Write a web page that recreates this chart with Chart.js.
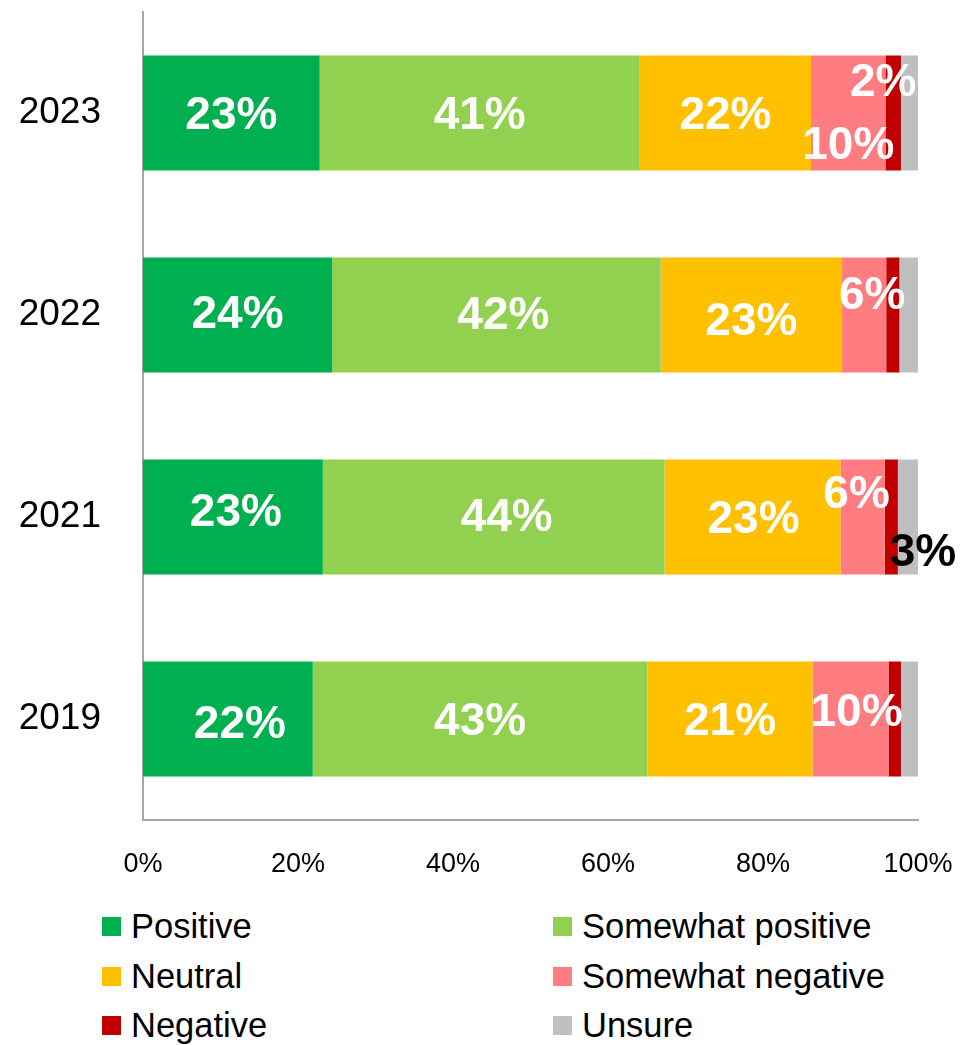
<!DOCTYPE html>
<html>
<head>
<meta charset="utf-8">
<title>Sentiment by year</title>
<script src="https://cdn.jsdelivr.net/npm/chart.js@4.4.0/dist/chart.umd.min.js"></script>
<style>
    body { margin: 0; background: #fff; font-family: "Liberation Sans", Arial, sans-serif; }
    #wrap { position: relative; width: 960px; height: 1045px; }
    #chart-box { position: absolute; left: 0; top: 0; width: 960px; height: 890px; }
    #legend { position: absolute; left: 102px; top: 902px; display: grid;
              grid-template-columns: 451px 400px; grid-auto-rows: 49.5px; }
    .item { display: flex; align-items: center; font-size: 34.5px; color: #000; white-space: nowrap; }
    .swatch { width: 19px; height: 19px; margin-right: 10px; flex: none; }
</style>
</head>
<body>
<div id="wrap">
    <div id="chart-box"><canvas id="sentiment-chart"></canvas></div>
    <div id="legend"></div>
</div>
<script>
const years = ['2023', '2022', '2021', '2019'];
const seriesNames = ['Positive', 'Somewhat positive', 'Neutral', 'Somewhat negative', 'Negative', 'Unsure'];
const seriesColors = ['#00B050', '#92D050', '#FFC000', '#FF7C80', '#C00000', '#BFBFBF'];

// share of answers in %, one value per year
const positive = [22.8, 24.4, 23.2, 21.9];
const somewhatPositive = [41.3, 42.4, 44.1, 43.2];
const neutral = [22.1, 23.4, 22.7, 21.3];
const somewhatNegative = [9.6, 5.7, 5.7, 9.8];
const negative = [2.0, 1.7, 1.7, 1.6];
const unsure = [2.2, 2.4, 2.6, 2.2];

const xTicks = [0, 20, 40, 60, 80, 100];

// which segments get a label, and how far it was dragged off centre [dx, dy, colour]
const labelNudge = {
    'Positive': [[0, 0], [0, -3], [3, -7], [12, 3]],
    'Somewhat positive': [[0, 0], [7, -2], [13, -2], [0, 0]],
    'Neutral': [[0, 0], [0, 4], [1, 0], [0, 0]],
    'Somewhat negative': [[0, 30], [8, -22], [-6, -25], [6, -9]],
    'Negative': [[-10, -33], null, null, null],
    'Unsure': [null, null, [15, 33, '#000'], null]
};

const FONT = '"Liberation Sans", Arial, sans-serif';
const seriesValues = [positive, somewhatPositive, neutral, somewhatNegative, negative, unsure];

const barLabels = {
    id: 'barLabels',
    afterDatasetsDraw(chart) {
        const ctx = chart.ctx;
        ctx.save();
        ctx.font = 'bold 46px ' + FONT;
        ctx.textAlign = 'center';
        ctx.textBaseline = 'middle';
        chart.data.datasets.forEach(function (ds, i) {
            chart.getDatasetMeta(i).data.forEach(function (bar, j) {
                const nudge = labelNudge[ds.label][j];
                if (!nudge) return;
                const cx = (bar.x + bar.base) / 2;
                ctx.fillStyle = nudge[2] || '#fff';
                // +3: digits sit a little high with a 'middle' baseline
                ctx.fillText(Math.round(ds.data[j]) + '%', cx + nudge[0], bar.y + nudge[1] + 3);
            });
        });
        ctx.restore();
    }
};

const datasets = seriesNames.map(function (name, i) {
    return {
        label: name,
        data: seriesValues[i],
        backgroundColor: seriesColors[i],
        borderWidth: 0,
        barPercentage: 0.57,
        categoryPercentage: 1
    };
});

const ctx = document.getElementById('sentiment-chart').getContext('2d');
const chart = new Chart(ctx, {
    type: 'bar',
    data: { labels: years, datasets: datasets },
    plugins: [barLabels],
    options: {
        indexAxis: 'y',
        animation: false,
        responsive: true,
        maintainAspectRatio: false,
        layout: { padding: { top: 12, right: 42, bottom: 0, left: 0 } },
        plugins: {
            legend: { display: false },
            tooltip: { enabled: false }
        },
        scales: {
            x: {
                stacked: true,
                min: 0,
                max: 100,
                afterBuildTicks: function (scale) {
                    scale.ticks = xTicks.map(function (v) { return { value: v }; });
                },
                afterFit: function (scale) {
                    scale.height = 70;
                    // tick padding should not push the plot in from the right
                    scale.paddingLeft = 0;
                    scale.paddingRight = 0;
                },
                grid: { display: false },
                border: { display: true, color: '#a6a6a6', width: 2 },
                ticks: {
                    color: '#000',
                    padding: 20,
                    maxRotation: 0,
                    font: { family: FONT, size: 27 },
                    callback: function (v) { return v + '%'; }
                }
            },
            y: {
                stacked: true,
                afterFit: function (scale) {
                    scale.width = 143;
                    scale.paddingTop = 0;
                    scale.paddingBottom = 0;
                },
                grid: { display: false },
                border: { display: true, color: '#a6a6a6', width: 2 },
                ticks: {
                    color: '#000',
                    padding: 34,
                    font: { family: FONT, size: 37 }
                }
            }
        }
    }
});

// legend in two columns like the original
const legend = document.getElementById('legend');
seriesNames.forEach(function (name, i) {
    const item = document.createElement('div');
    item.className = 'item';
    const sw = document.createElement('span');
    sw.className = 'swatch';
    sw.style.background = seriesColors[i];
    item.appendChild(sw);
    item.appendChild(document.createTextNode(name));
    legend.appendChild(item);
});
</script>
</body>
</html>
